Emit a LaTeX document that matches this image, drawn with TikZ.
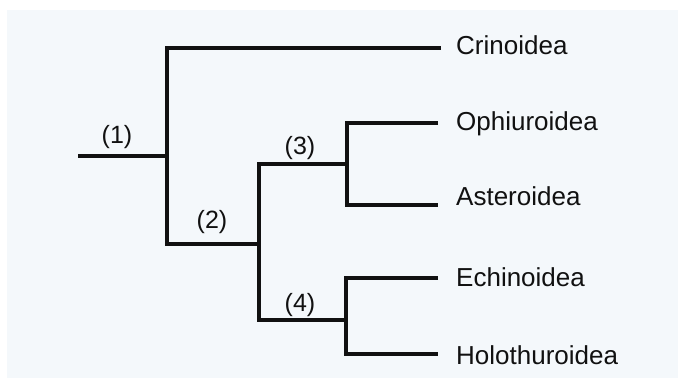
\documentclass[tikz,border=0pt]{standalone}
\usepackage{fontspec}
\setmainfont{Liberation Sans}
\definecolor{bgpanel}{HTML}{F4F8FB}
\definecolor{ink}{HTML}{111111}
\begin{document}
\begin{tikzpicture}[x=1pt,y=-1pt,
  branch/.style={draw=ink,line width=3.4pt,line join=miter},
  taxon/.style={anchor=base west,inner sep=0pt,text=ink,font=\fontsize{26}{30}\selectfont},
  clade/.style={anchor=base,inner sep=0pt,text=ink,font=\fontsize{25}{29}\selectfont}]
\useasboundingbox (0,0) rectangle (678,378);
\fill[white] (0,0) rectangle (678,378);
\fill[bgpanel] (7,10) rectangle (678,378);
% junctions and tips
\coordinate (root) at (78,156);
\coordinate (j1) at (167,156);
\coordinate (j2) at (259,244);
\coordinate (j3) at (347,164);
\coordinate (j4) at (346,320);
\coordinate (tCrin) at (441,48);
\coordinate (tOph) at (438,123);
\coordinate (tAst) at (438,205);
\coordinate (tEch) at (438,278);
\coordinate (tHol) at (438,354);
% branches
\draw[branch] (root) -- (j1);
\draw[branch] (tCrin) -| (j1) |- (j2);
\draw[branch] (j3) -| (j2) |- (j4);
\draw[branch] (tOph) -| (j3) |- (tAst);
\draw[branch] (tEch) -| (j4) |- (tHol);
% taxa
\node[taxon] (crin) at (456,54) {Crinoidea};
\node[taxon] (oph) at (456,130) {Ophiuroidea};
\node[taxon] (ast) at (456,205) {Asteroidea};
\node[taxon] (ech) at (456,286) {Echinoidea};
\node[taxon] (hol) at (456,364) {Holothuroidea};
% clade labels
\node[clade] (l1) at (117,143) {(1)};
\node[clade] (l2) at (212,228) {(2)};
\node[clade] (l3) at (300,154) {(3)};
\node[clade] (l4) at (300,311) {(4)};
\end{tikzpicture}
\end{document}
